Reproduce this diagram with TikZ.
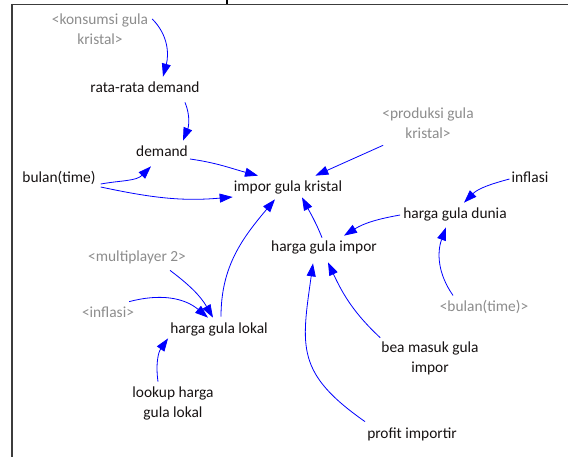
\documentclass[tikz,border=0pt]{standalone}
\usepackage{fontspec}
\setmainfont{Carlito}
\usetikzlibrary{arrows.meta}

\definecolor{varink}{RGB}{22,18,18}
\definecolor{shadowink}{RGB}{140,140,140}
\definecolor{linkblue}{RGB}{0,0,255}
\definecolor{frameink}{RGB}{60,60,60}

% strut giving every text line the same ascender/descender box
\newcommand\lblstrut{\rule[-3.5pt]{0pt}{14.3pt}}

\tikzset{
  var/.style={inner sep=1pt, align=center, text=varink,
    font=\fontsize{15.4}{20}\selectfont, execute at begin node=\lblstrut},
  shadowvar/.style={var, text=shadowink},
  link/.style={draw=linkblue, line width=0.8pt,
    -{Triangle[length=13pt,width=9pt]}},
  framerule/.style={draw=frameink, line width=1.5pt}
}

\begin{document}
\begin{tikzpicture}[x=1pt,y=1pt]
\useasboundingbox (0,0) rectangle (568,-457);

% page frame and the foot of the heading letter above it
\draw[framerule] (12,-4.6) -- (568,-4.6);
\draw[framerule] (12.2,-3.9) -- (12.2,-457);
\fill[black] (225.6,0) rectangle (228.4,-4);

% variables
\node[shadowvar] (kons)   at (100,-31)  {<konsumsi gula\\\lblstrut kristal>};
\node[var]       (rrd)    at (145,-89)  {rata-rata demand};
\node[var]       (dem)    at (162,-153) {demand};
\node[var]       (bulan)  at (59,-179)  {bulan(time)};
\node[var]       (impor)  at (288,-188) {impor gula kristal};
\node[shadowvar] (prod)   at (428,-125) {<produksi gula\\\lblstrut kristal>};
\node[var]       (infl)   at (530,-179) {inflasi};
\node[var]       (dunia)  at (455,-215) {harga gula dunia};
\node[var]       (himp)   at (324,-248) {harga gula impor};
\node[shadowvar] (mult)   at (137,-258) {<multiplayer 2>};
\node[shadowvar] (infl2)  at (108,-314) {<inflasi>};
\node[var]       (lokal)  at (219,-330) {harga gula lokal};
\node[var]       (lookup) at (173,-404) {lookup harga\\\lblstrut gula lokal};
\node[shadowvar] (bulan2) at (484,-308) {<bulan(time)>};
\node[var]       (bea)    at (430,-359) {bea masuk gula\\\lblstrut impor};
\node[var]       (profit) at (412,-435) {profit importir};

% causal links
\draw[link] ([shift={(3,12)}]kons.east) to[out=-45,in=75] ([shift={(18,4)}]rrd.north);
\draw[link] ([shift={(40,-5)}]rrd.south) to[out=-68,in=68] ([shift={(21,4)}]dem.north);
\draw[link] ([shift={(1,-6)}]dem.east) to[out=-8,in=165] ([shift={(-30,4)}]impor.north);
\draw[link] ([shift={(4,-5)}]bulan.east) to[out=10,in=-135] ([shift={(-11,-5)}]dem.south);
\draw[link] ([shift={(4,-8)}]bulan.east) to[out=-12,in=185] ([shift={(0,-9)}]impor.west);
\draw[link] ([shift={(2,-2)}]prod.south west) -- ([shift={(-28,4)}]impor.north east);
\draw[link] ([xshift=-1]infl.west) to[out=195,in=45] ([shift={(9,4)}]dunia.north);
\draw[link] ([xshift=-2]dunia.west) to[out=190,in=32] ([shift={(20,4)}]himp.north);
\draw[link] ([shift={(-2,2)}]himp.north) to[out=112,in=-62] ([shift={(14,-1)}]impor.south);
\draw[link] ([shift={(-31,4)}]bulan2.north) to[out=125,in=-110] ([shift={(-9,-4)}]dunia.south);
\draw[link] ([yshift=3]bea.north west) to[out=137,in=-65] ([shift={(4,-6)}]himp.south);
\draw[link] ([shift={(-1,5)}]profit.north west) to[out=145,in=-98,looseness=1.3] ([shift={(-11,-7)}]himp.south);
\draw[link] ([shift={(2,5)}]lokal.north) to[out=90,in=-130] ([shift={(-13,-3)}]impor.south);
\draw[link] ([shift={(33,-4)}]mult.south) to[out=-37,in=120] ([shift={(-6,4)}]lokal.north);
\draw[link] ([shift={(-6,4)}]infl2.north east) to[out=15,in=140] ([shift={(-11,4)}]lokal.north);
\draw[link] ([shift={(-15,4)}]lookup.north) to[out=98,in=-125] ([shift={(-1,0)}]lokal.south west);
\end{tikzpicture}
\end{document}
